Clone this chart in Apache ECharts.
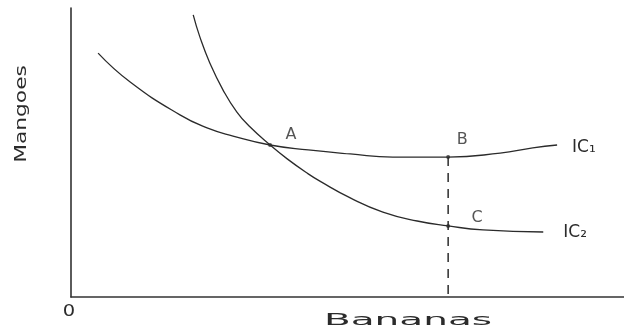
<!DOCTYPE html>
<html>
<head>
<meta charset="utf-8">
<script src="https://cdn.jsdelivr.net/npm/echarts@6/dist/echarts.min.js"></script>
<style>
    html, body { margin: 0; padding: 0; background: #fff; }
    #chart { width: 624px; height: 331px; }
</style>
</head>
<body>
<div id="chart"></div>
<script>
// indifference curves (bananas 0-100 across, mangoes 0-100 up)
var ic1 = [[4.9, 84.4], [10.7, 74.4], [19.7, 63.0], [24.6, 58.5], [29.3, 55.7], [36.0, 52.6],
    [42.9, 50.9], [50.5, 49.5], [58.2, 48.4], [68.2, 48.4], [77.6, 49.8], [83.5, 51.6], [87.9, 52.6]];
var ic2 = [[22.1, 97.6], [23.3, 90.0], [25.1, 81.0], [27.5, 71.6], [30.0, 64.0], [32.4, 58.8],
    [36.0, 52.6], [39.1, 47.8], [42.9, 42.6], [45.0, 40.1], [50.5, 34.3], [56.4, 29.4],
    [62.6, 26.3], [68.2, 24.6], [74.5, 23.2], [85.4, 22.5]];
var curveNames = ['IC\u2081', 'IC\u2082'];
var pointNames = ['A', 'B', 'C'];
var pointValues = [[36.0, 52.6], [68.2, 48.4], [68.2, 24.6]];
var axisNames = { x: 'Bananas', y: 'Mangoes', origin: '0' };

var ink = '#2b2b2b';
var font = '"DejaVu Sans", sans-serif';
var labelOffsets = [[21, -10], [14, -17], [29, -8]];

var chart = echarts.init(document.getElementById('chart'));

// dashed drop line from B down to the bananas axis
var b = pointValues[1];
var dropLine = [[b[0], b[1]], [b[0], 0]];

function curve(name, data, gap, dy) {
    return {
        name: name,
        type: 'line',
        data: data,
        smooth: 0.5,
        symbol: 'none',
        silent: true,
        lineStyle: { color: ink, width: 1.3 },
        endLabel: {
            show: true,
            formatter: name,
            distance: gap,
            offset: [0, dy],
            color: ink,
            fontFamily: font,
            fontSize: 17
        }
    };
}

chart.setOption({
    animation: false,
    backgroundColor: '#fff',
    grid: { left: 71, right: 0, top: 8, bottom: 34 },
    xAxis: {
        type: 'value',
        min: 0,
        max: 100,
        axisLine: { show: true, lineStyle: { color: '#333', width: 1.6 } },
        axisTick: { show: false },
        axisLabel: { show: false },
        splitLine: { show: false }
    },
    yAxis: {
        type: 'value',
        min: 0,
        max: 100,
        axisLine: { show: true, lineStyle: { color: '#333', width: 1.6 } },
        axisTick: { show: false },
        axisLabel: { show: false },
        splitLine: { show: false }
    },
    series: [
        curve(curveNames[0], ic1, 15, 3),
        curve(curveNames[1], ic2, 20, 1),
        {
            type: 'line',
            data: dropLine,
            symbol: 'none',
            silent: true,
            lineStyle: { color: ink, width: 1.5, type: [9, 7] }
        },
        {
            type: 'scatter',
            symbolSize: 4,
            itemStyle: { color: ink },
            data: pointValues.map(function (v, i) {
                return {
                    value: v,
                    label: {
                        show: true,
                        formatter: pointNames[i],
                        position: 'inside',
                        offset: labelOffsets[i],
                        color: ink,
                        textBorderWidth: 0,
                        fontFamily: font,
                        fontSize: 16
                    }
                };
            })
        }
    ],
    graphic: [
        {
            type: 'text', x: 69, y: 312, scaleX: 1.3,
            style: { text: axisNames.origin, font: '15px ' + font, fill: ink, textAlign: 'center', textVerticalAlign: 'middle' }
        },
        {
            type: 'text', x: 408, y: 321, scaleX: 2.6,
            style: { text: axisNames.x, font: '15px ' + font, fill: ink, textAlign: 'center', textVerticalAlign: 'middle' }
        },
        {
            type: 'text', x: 22, y: 114, rotation: Math.PI / 2, scaleX: 1.45,
            style: { text: axisNames.y, font: '15px ' + font, fill: ink, textAlign: 'center', textVerticalAlign: 'middle' }
        }
    ]
});
</script>
</body>
</html>
